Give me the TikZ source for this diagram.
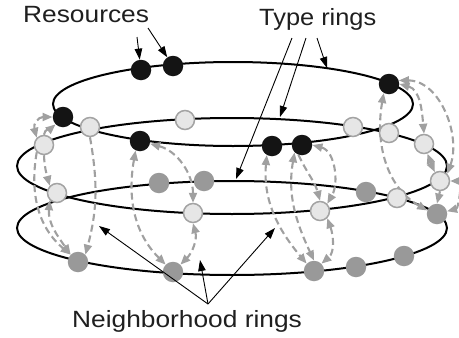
\documentclass[tikz,border=0pt]{standalone}
\usepackage{fontspec}
\setmainfont{Liberation Sans}
\usetikzlibrary{arrows.meta,backgrounds}
\definecolor{ltfill}{HTML}{E6E6E6}
\definecolor{ltborder}{HTML}{A3A3A3}
\definecolor{dkfill}{HTML}{999999}
\definecolor{nbgray}{HTML}{A0A0A0}
\begin{document}
\begin{tikzpicture}[x=1pt,y=-1pt,
  ring/.style={line width=2pt, black},
  bk/.style={circle, fill=black!92, minimum size=20.5pt, inner sep=0pt},
  lt/.style={circle, fill=ltfill, draw=ltborder, line width=1.5pt, minimum size=19pt, inner sep=0pt},
  dk/.style={circle, fill=dkfill, minimum size=20.5pt, inner sep=0pt},
  nbbase/.style={draw=nbgray, line width=2.1pt, dash pattern=on 7pt off 4pt},
  nb/.style={nbbase, {Triangle[length=10pt,width=8pt,fill=nbgray]}-{Triangle[length=10pt,width=8pt,fill=nbgray]}},
  nbf/.style={nbbase, -{Triangle[length=10pt,width=8pt,fill=nbgray]}},
  lbl/.style={line width=0.9pt, black, -{Triangle[length=11pt,width=7.5pt]}},
  lab/.style={font=\fontsize{23.5}{26}\selectfont, inner sep=0pt, text=black!88}]
\path[use as bounding box] (0,0) rectangle (459,338);

% resources (nodes)
\node[bk] (B1) at (141,70) {};
\node[bk] (B2) at (173,66) {};
\node[bk] (B3) at (63,117) {};
\node[bk] (B4) at (140,141) {};
\node[bk] (B5) at (389,84) {};
\node[bk] (B6) at (272,146) {};
\node[bk] (B7) at (302,145) {};

\node[lt] (L1) at (44,145) {};
\node[lt] (L2) at (90,127) {};
\node[lt] (L3) at (185,120) {};
\node[lt] (L4) at (353,127) {};
\node[lt] (L5) at (389,133) {};
\node[lt] (L6) at (424,144) {};
\node[lt] (L7) at (440,181) {};
\node[lt] (L8) at (397,198) {};
\node[lt] (L9) at (320,211) {};
\node[lt] (L10) at (193,213) {};
\node[lt] (L11) at (57,193) {};

\node[dk] (D1) at (159,183) {};
\node[dk] (D2) at (204,181) {};
\node[dk] (D3) at (366,192) {};
\node[dk] (D4) at (437,214) {};
\node[dk] (D5) at (78,262) {};
\node[dk] (D6) at (173,272) {};
\node[dk] (D7) at (314,271) {};
\node[dk] (D8) at (356,267) {};
\node[dk] (D9) at (404,256) {};

\begin{pgfonlayer}{background}
% type rings
\draw[ring] (233,104) ellipse [x radius=180pt, y radius=42pt];
\draw[ring] (232,166) ellipse [x radius=215pt, y radius=48pt];
\draw[ring] (232,228) ellipse [x radius=215pt, y radius=47pt];

% neighborhood rings: left group
\draw[nb] (B3.west) to[out=180,in=105,looseness=1.4] (L1.north west);
\draw[nbf] (L1.north) to[out=85,in=-140] (B3.south west);
\draw[nbf] (L1.south) to[out=-88,in=105] (L11.north west);
\draw[nbf] (L1.south west) to[out=-100,in=140] (D5.north west);
\draw[nb] (L11.south west) to[out=-95,in=125] (D5.north west);
\draw[nbf] (L2.south) to[out=-80,in=75] (D5.north east);

% group B
\draw[nb] (B4.-15) to[out=-15,in=90] (L10.north);
\draw[nb] (L10.south) to[out=-75,in=45] (D6.north east);
\draw[nb] (B4.-115) to[out=-100,in=135] (D6.north west);

% group C
\draw[nb] (B6.-120) to[out=-95,in=130] (D7.north west);
\draw[nb] (B7.-135) to[out=-100,in=115] (D7.north);
\draw[nbf] (B7.-110) to[out=-65,in=105] (L9.north);
\draw[nb] (B7.east) to[out=-15,in=60] (L9.north east);
\draw[nb] (L9.south east) to[out=-70,in=40] (D7.north east);

% group D
\draw[nb] (B5.-120) to[out=-100,in=150] (D4.160);
\draw[nb] (B5.east) to[out=-15,in=95] (L6.north);
\draw[nb] (B5.20) to[out=0,in=70] (L7.north east);
\draw[nb] (L6.-70) to[out=-70,in=115] (L7.120);
\draw[nbf] (L7.south) -- (D4.north);
\draw[nb] (L7.east) to[out=0,in=15] (D4.15);
\end{pgfonlayer}

% labels
\node[lab, anchor=base west] (res) at (23,22) {\scalebox{1.12}[1]{Resources}};
\node[lab, anchor=base west] (typ) at (259,25) {\scalebox{1.08}[1]{Type rings}};
\node[lab, anchor=base west] (nbr) at (72,327) {\scalebox{1.12}[1]{Neighborhood rings}};

\coordinate (r1) at (137,37);
\coordinate (r2) at (148,28);
\draw[lbl] (r1) -- (B1);
\draw[lbl] (r2) -- (B2);

\coordinate (t1) at (292,38);
\coordinate (t2) at (306,38);
\coordinate (t3) at (317,38);
\coordinate (te1) at (236,179);
\coordinate (te2) at (280,117);
\coordinate (te3) at (327,68);
\draw[lbl] (t1) -- (te1);
\draw[lbl] (t2) -- (te2);
\draw[lbl] (t3) -- (te3);

\coordinate (n0) at (208,304);
\coordinate (ne1) at (99,226);
\coordinate (ne2) at (200,260);
\coordinate (ne3) at (275,228);
\draw[lbl] (n0) -- (ne1);
\draw[lbl] (n0) -- (ne2);
\draw[lbl] (n0) -- (ne3);
\end{tikzpicture}
\end{document}
